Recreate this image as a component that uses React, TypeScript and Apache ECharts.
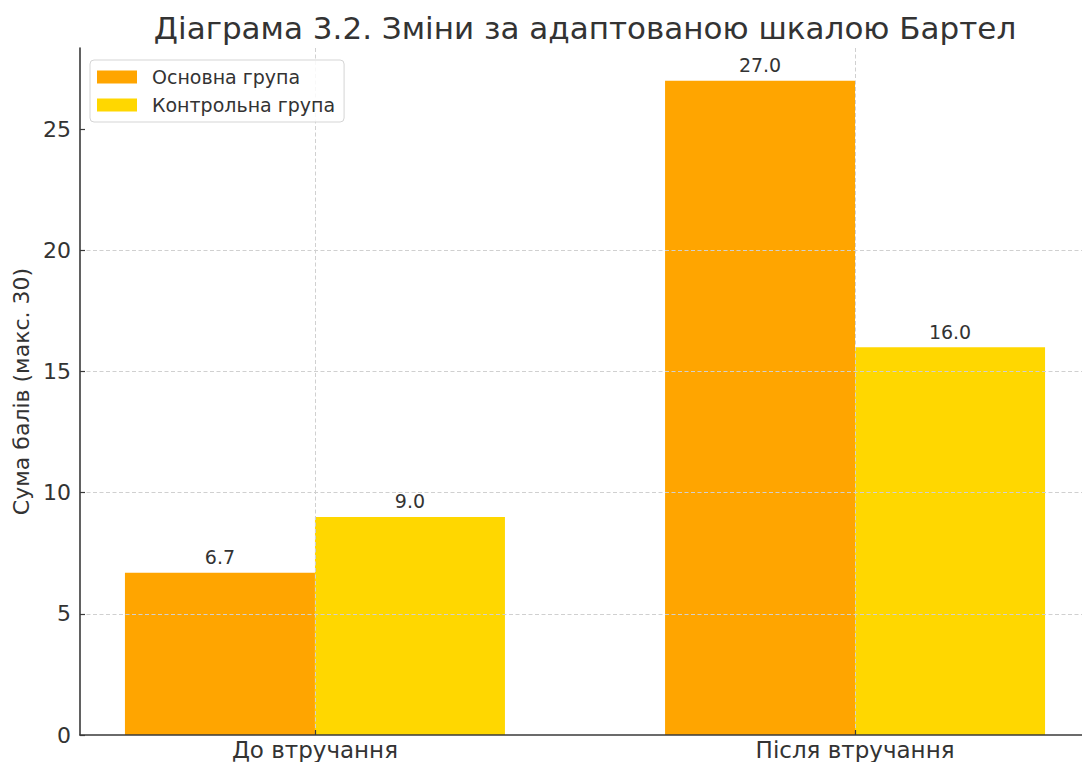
import React, { useEffect, useRef } from "react";
import * as echarts from "echarts";

const titleText = "Діаграма 3.2. Зміни за адаптованою шкалою Бартел";
const yAxisName = "Сума балів (макс. 30)";
const categories = ["До втручання", "Після втручання"];
const seriesNames = ["Основна група", "Контрольна група"];
const mainGroup = [6.7, 27.0];
const controlGroup = [9.0, 16.0];
const yTicks = [0, 5, 10, 15, 20, 25];
const colors = ["#FFA500", "#FFD700"];

export default function App() {
  const ref = useRef<HTMLDivElement>(null);
  useEffect(() => {
    if (!ref.current) return;
    const chart = echarts.init(ref.current, null, { renderer: "svg" });
    const font = "DejaVu Sans";
    const textColor = "#333333";
    const axisColor = "#3a3a3a";
    const xIdx = categories.map((_, i) => i);
    const toPairs = (vals: number[]) => vals.map((v, i) => [xIdx[i], v]);
    const gridLine = { show: true, lineStyle: { color: "#d0d0d0", type: [4, 2.5], width: 1 } };
    const allSeries = [mainGroup, controlGroup].map((vals, s) => ({
      name: seriesNames[s],
      type: "bar",
      data: toPairs(vals),
      barWidth: 190,
      barGap: "0%",
      itemStyle: { color: colors[s] },
      label: {
        show: true,
        position: "top",
        distance: 6,
        fontFamily: font,
        fontSize: 19,
        color: textColor,
        formatter: (p: any) => Number(p.value[1]).toFixed(1),
      },
    }));
    chart.setOption({
      animation: false,
      backgroundColor: "#ffffff",
      textStyle: { fontFamily: font },
      title: {
        text: titleText,
        left: "center",
        top: 7,
        textStyle: { fontFamily: font, fontSize: 31, fontWeight: "normal", color: textColor },
      },
      legend: {
        orient: "vertical",
        left: 90,
        top: 60,
        itemWidth: 40,
        itemHeight: 13,
        itemGap: 8,
        icon: "rect",
        backgroundColor: "rgba(255,255,255,0.85)",
        borderColor: "#d5d5d5",
        borderWidth: 1,
        borderRadius: 4,
        padding: [7, 9, 7, 7],
        data: seriesNames,
        textStyle: {
          fontFamily: font,
          fontSize: 19,
          lineHeight: 20,
          color: textColor,
          padding: [0, 0, 0, 10],
        },
      },
      grid: { left: 80, right: 80, top: 48, bottom: 27, containLabel: false },
      xAxis: {
        type: "value",
        min: -0.435,
        max: 1.435,
        z: 3,
        axisLine: { show: true, onZero: false, lineStyle: { color: axisColor, width: 1.6 } },
        axisTick: {
          show: true,
          inside: true,
          length: 5,
          customValues: xIdx,
          lineStyle: { color: axisColor, width: 1.2 },
        },
        axisLabel: {
          customValues: xIdx,
          formatter: (v: number) => categories[Math.round(v)] ?? "",
          fontFamily: font,
          fontSize: 23,
          color: textColor,
          margin: 3,
        },
        splitLine: gridLine,
      },
      yAxis: {
        type: "value",
        min: 0,
        max: 28.35,
        z: 3,
        name: yAxisName,
        nameLocation: "middle",
        nameGap: 47,
        nameTextStyle: { fontFamily: font, fontSize: 22, color: textColor },
        axisLine: { show: true, onZero: false, lineStyle: { color: axisColor, width: 1.6 } },
        axisTick: {
          show: true,
          inside: true,
          length: 5,
          customValues: yTicks,
          lineStyle: { color: axisColor, width: 1.2 },
        },
        axisLabel: {
          customValues: yTicks,
          fontFamily: font,
          fontSize: 22,
          color: textColor,
          margin: 9,
        },
        splitLine: { ...gridLine, showMinLine: false, showMaxLine: false },
      },
      series: allSeries,
    });
    return () => chart.dispose();
  }, []);
  return (
    <div style={{ position: "absolute", left: 0, top: 0, width: 1082, height: 762, overflow: "hidden", background: "#fff" }}>
      <div ref={ref} style={{ width: 1170, height: 762 }} />
    </div>
  );
}
